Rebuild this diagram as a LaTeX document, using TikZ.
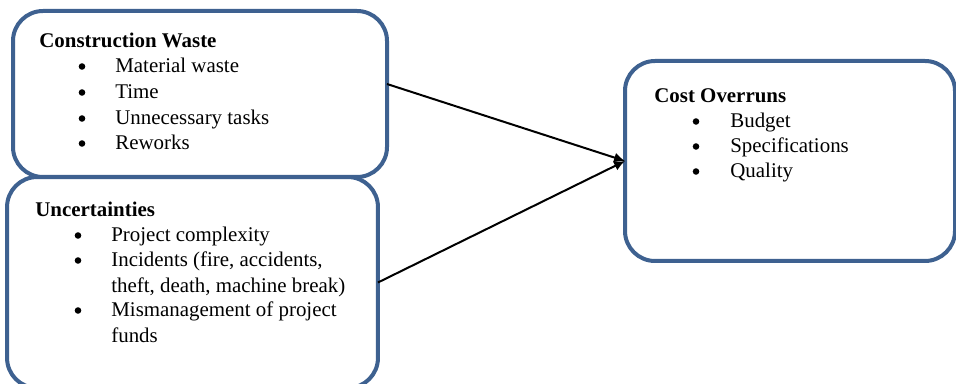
\documentclass[tikz,border=0pt]{standalone}
\usepackage{fontspec}
\setmainfont{Liberation Serif}
\usetikzlibrary{arrows.meta}

\definecolor{boxblue}{RGB}{62,97,144}

\tikzset{
    factor/.style={draw=boxblue, line width=2.2pt, rounded corners=16.5pt, inner sep=0pt, outer sep=0pt},
    heading/.style={anchor=base west, inner sep=0pt, font=\fontsize{11.5}{13}\selectfont\bfseries},
    entry/.style={anchor=base west, inner sep=0pt},
    dot/.style={inner sep=0pt, circle, fill, minimum size=3.6pt},
    link/.style={line width=1.1pt, -{Latex[length=6pt,width=5.5pt]}}
}

\begin{document}
\begin{tikzpicture}[x=0.55pt, y=-0.55pt, font=\fontsize{11.5}{13}\selectfont]
    \useasboundingbox (0,0) rectangle (956,384);

    % Boxes
    \node[factor, minimum width=205.7pt, minimum height=91.3pt] (waste) at (200,94) {};
    \node[factor, minimum width=204pt, minimum height=116pt] (uncert) at (192.5,282.5) {};
    \node[factor, minimum width=181.5pt, minimum height=110pt] (cost) at (790,161) {};

    % Construction waste
    \node[heading] (wasteTitle) at (39,48) {Construction Waste};
    \foreach \y/\txt in {73/{Material waste}, 99/{Time}, 125/{Unnecessary tasks}, 150/{Reworks}}
    {
        \node[dot] (wdot\y) at (82,\y-6.5) {};
        \node[entry] (wtxt\y) at (115,\y) {\txt};
    }

    % Uncertainties
    \node[heading] (uncertTitle) at (35,217) {Uncertainties};
    \foreach \y in {242,267,317}
        \node[dot] (udot\y) at (78,\y-6.5) {};
    \foreach \y/\txt in {242/{Project complexity}, 267/{Incidents (fire, accidents,}, 293/{theft, death, machine break)}, 317/{Mismanagement of project}, 342/{funds}}
        \node[entry] (utxt\y) at (111,\y) {\txt};

    % Cost overruns
    \node[heading] (costTitle) at (654,103) {Cost Overruns};
    \foreach \y/\txt in {128/{Budget}, 153/{Specifications}, 178/{Quality}}
    {
        \node[dot] (cdot\y) at (696,\y-6.5) {};
        \node[entry] (ctxt\y) at (730,\y) {\txt};
    }

    % Links
    \draw[link] ([yshift=5.5pt]waste.east) -- (cost.west);
    \draw[link] (uncert.east) -- (cost.west);
\end{tikzpicture}
\end{document}
